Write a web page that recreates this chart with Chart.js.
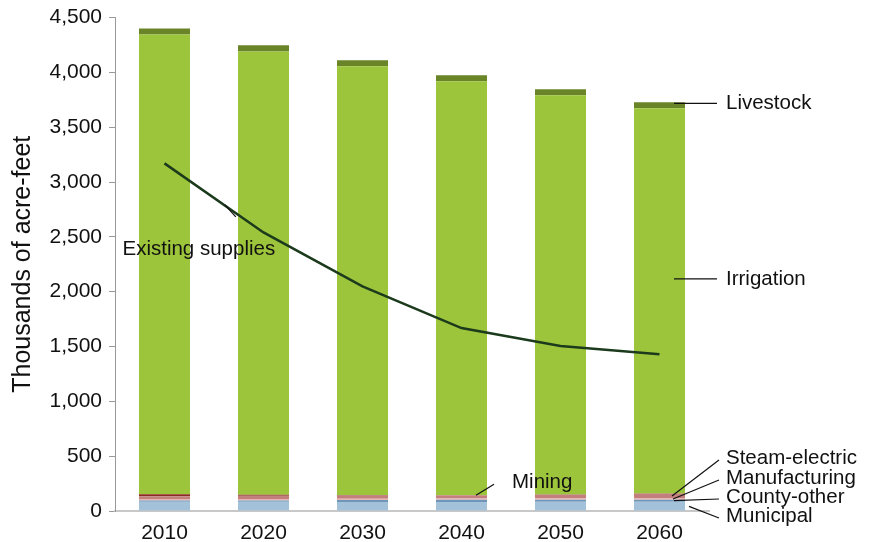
<!DOCTYPE html>
<html>
<head>
<meta charset="utf-8">
<script src="https://cdn.jsdelivr.net/npm/chart.js@4.4.1/dist/chart.umd.min.js"></script>
<style>
  html, body { margin: 0; padding: 0; background: #fff; }
  #wrap { width: 871px; height: 542px; }
</style>
</head>
<body>
<div id="wrap"><canvas id="chart" width="871" height="542"></canvas></div>
<script>
// data ------------------------------------------->
const years = ['2010', '2020', '2030', '2040', '2050', '2060']
const municipal = [85, 85, 82, 82, 85, 85]
const countyOther = [10, 10, 18, 20, 18, 18]
const manufacturing = [15, 15, 12, 12, 12, 12]
const steamElectric = [25, 30, 30, 27, 33, 42]
const mining = [18, 8, 3, 2, 2, 2]
const irrigation = [4192, 4043, 3910, 3776, 3641, 3514]
const livestock = [55, 55, 55, 55, 55, 55]
const existingSupplies = [3170, 2540, 2048, 1668, 1504, 1430]
const yTicks = [0, 500, 1000, 1500, 2000, 2500, 3000, 3500, 4000, 4500]

const FONT = 'Liberation Sans, Arial, sans-serif'

// bar segments, bottom to top
const segs = [
    {label: 'Municipal', data: municipal, color: '#a3c1d9'},
    {label: 'County-other', data: countyOther, color: '#6f95b8'},
    {label: 'Manufacturing', data: manufacturing, color: '#e9b6b4'},
    {label: 'Steam-electric', data: steamElectric, color: '#c27f7c'},
    {label: 'Mining', data: mining, color: '#8c2a22'},
    {label: 'Irrigation', data: irrigation, color: '#9dc53b'},
    {label: 'Livestock', data: livestock, color: '#6a8528'}
]

let datasets = segs.map(s => ({
    type: 'bar',
    label: s.label,
    data: s.data,
    backgroundColor: s.color,
    stack: 'use',
    order: 2,
    categoryPercentage: 1,
    barPercentage: 0.515
}))

datasets.push({
    type: 'line',
    label: 'Existing supplies',
    data: existingSupplies,
    borderColor: '#1c3a1c',
    borderWidth: 2.5,
    pointRadius: 0,
    tension: 0,
    stack: 'line',
    order: 1
})

// sum of stack below index i (for label anchors)
const cum = (upTo, j) => {
    let s = 0
    for (let k = 0; k < upTo; k++) s += segs[k].data[j]
    return s
}

// labels with leader lines
const labelPlugin = {
    id: 'labels',
    afterDatasetsDraw(chart) {
        const ctx = chart.ctx
        const x = chart.scales.x, y = chart.scales.y
        const last = years.length - 1
        const bw = x.getPixelForValue(1) - x.getPixelForValue(0)
        const barRight = x.getPixelForValue(last) + bw * 0.515 / 2
        const textX = barRight + 41
        ctx.save()
        ctx.font = '20.5px ' + FONT
        ctx.fillStyle = '#111'
        ctx.strokeStyle = '#111'
        ctx.lineWidth = 1.2
        ctx.textBaseline = 'middle'
        ctx.textAlign = 'left'

        const line = (x1, y1, x2, y2) => {
            ctx.beginPath(); ctx.moveTo(x1, y1); ctx.lineTo(x2, y2); ctx.stroke()
        }

        // Livestock
        let ly = y.getPixelForValue(cum(6, last) + livestock[last] * 0.8)
        line(barRight - 11, ly, textX - 9, ly)
        ctx.fillText('Livestock', textX, ly)

        // Irrigation
        let iy = y.getPixelForValue(cum(5, last) + irrigation[last] * 0.557)
        line(barRight - 11, iy, textX - 9, iy)
        ctx.fillText('Irrigation', textX, iy)

        // small segments of 2060, fanned out
        const fan = [
            {t: 'Steam-electric', seg: 3, ty: 458, ax: -13},
            {t: 'Manufacturing', seg: 2, ty: 478, ax: -12},
            {t: 'County-other', seg: 1, ty: 497, ax: -11},
            {t: 'Municipal', seg: 0, ty: 516, ax: 4}
        ]
        fan.forEach(f => {
            let ay = y.getPixelForValue(cum(f.seg, last) + segs[f.seg].data[last] * 0.5)
            let ty = y.getPixelForValue(0) + (f.ty - 511)
            line(barRight + f.ax, ay, textX - 7, ty + 2)
            ctx.fillText(f.t, textX, ty)
        })

        // Mining
        let mx = x.getPixelForValue(3) - bw * 0.515 / 2 + 40
        let my = y.getPixelForValue(cum(5, 3))
        line(mx, my, mx + 18, my - 11)
        ctx.fillText('Mining', mx + 36, my - 13)

        // Existing supplies
        let ex = x.getPixelForValue(0.66)
        let ey = y.getPixelForValue(existingSupplies[0] + (existingSupplies[1] - existingSupplies[0]) * 0.66)
        line(ex - 5, ey - 4, ex + 6, ey + 8)
        ctx.textAlign = 'center'
        ctx.fillText('Existing supplies', ex - 31, ey + 40)
        ctx.restore()
    }
}

new Chart(document.getElementById('chart'), {
    data: {labels: years, datasets: datasets},
    plugins: [labelPlugin],
    options: {
        responsive: false,
        animation: false,
        layout: {padding: {top: 4, right: 162, left: 0, bottom: 0}},
        plugins: {legend: {display: false}, tooltip: {enabled: false}},
        scales: {
            x: {
                stacked: true,
                afterFit: s => { s.height = 31 },
                grid: {display: false},
                border: {color: '#c8c8c8', width: 2},
                ticks: {color: '#111', font: {size: 21, family: FONT}, padding: 2, maxRotation: 0}
            },
            y: {
                stacked: true,
                min: 0, max: 4500,
                afterFit: s => { s.width = 115 },
                afterBuildTicks: s => { s.ticks = yTicks.map(v => ({value: v})) },
                grid: {drawOnChartArea: false, tickLength: 6, color: '#999'},
                border: {color: '#999', width: 1},
                ticks: {
                    color: '#111', padding: 7,
                    font: {size: 21, family: FONT, lineHeight: 1},
                    callback: v => v.toLocaleString('en-US')
                },
                title: {display: true, text: 'Thousands of acre-feet', color: '#111',
                    font: {size: 25, family: FONT}, padding: {top: 8, bottom: 6}}
            }
        }
    }
})
</script>
</body>
</html>
